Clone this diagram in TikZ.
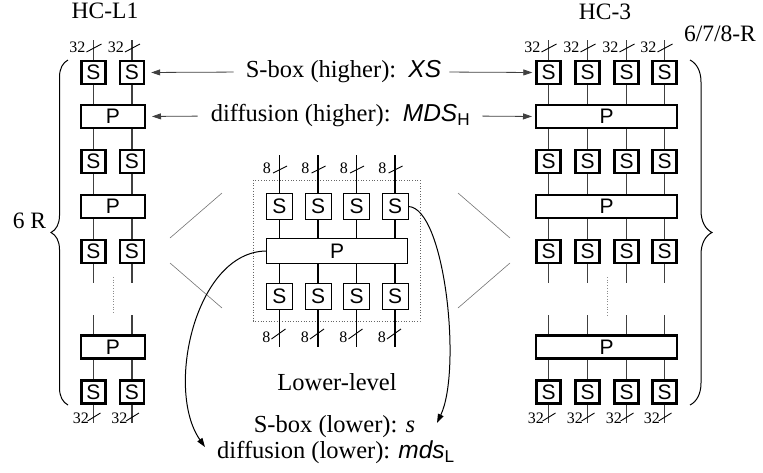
\documentclass[tikz,border=0pt]{standalone}
\usepackage{fontspec}
\setmainfont{Liberation Serif}
\newfontfamily\arialfont{Liberation Sans}
\usetikzlibrary{arrows.meta,decorations.pathreplacing}
\begin{document}
\begin{tikzpicture}[x=1pt,y=-1pt,
  hs/.style={draw, line width=2.4pt, fill=white, minimum width=24pt, minimum height=23pt, inner sep=0pt, font=\arialfont\fontsize{21}{21}\selectfont},
  ls/.style={draw, line width=0.9pt, fill=white, minimum width=26pt, minimum height=26pt, inner sep=0pt, font=\arialfont\fontsize{21}{21}\selectfont},
  wire/.style={line width=1.1pt, black!75},
  tick/.style={line width=0.9pt, black},
  gapline/.style={line width=0.7pt, black!45, dotted},
  zoomline/.style={line width=0.6pt, black!55},
  lbl/.style={font=\fontsize{24.5}{28}\selectfont, inner sep=0pt},
  ttl/.style={font=\fontsize{23.5}{27}\selectfont, inner sep=0pt},
  bus/.style={font=\fontsize{16}{16}\selectfont, inner sep=0pt, anchor=east},
  ptr/.style={line width=0.8pt, black!75, -{Triangle[length=9pt,width=6pt]}},
  curv/.style={line width=1pt, black, -{Triangle[length=9pt,width=6pt]}},
  bracestyle/.style={line width=1pt, decorate}
]
\useasboundingbox (0,0) rectangle (763,472);

% ---------- left column HC-L1 ----------
\node[hs, minimum width=63.6pt] (LP1) at (113,116.5) {P};
\node[hs, minimum width=63.6pt] (LP2) at (113,206.5) {P};
\node[hs, minimum width=63.6pt] (LP3) at (113,347) {P};
\foreach \c/\x in {1/93.5,2/132} {
  \node[hs] (L1-\c) at (\x,72.5) {S};
  \node[hs] (L2-\c) at (\x,161.5) {S};
  \node[hs] (L3-\c) at (\x,251.5) {S};
  \node[hs] (L4-\c) at (\x,392) {S};
  \coordinate (Ltop-\c) at (\x,40);
  \coordinate (Lga-\c) at (\x,283);
  \coordinate (Lgb-\c) at (\x,315);
  \coordinate (Lbot-\c) at (\x,423);
  \draw[wire] (Ltop-\c) -- (L1-\c.north);
  \draw[wire] (L1-\c.south) -- (L1-\c.south |- LP1.north);
  \draw[wire] (L1-\c.south |- LP1.south) -- (L2-\c.north);
  \draw[wire] (L2-\c.south) -- (L2-\c.south |- LP2.north);
  \draw[wire] (L2-\c.south |- LP2.south) -- (L3-\c.north);
  \draw[wire] (L3-\c.south) -- (Lga-\c);
  \draw[wire] (Lgb-\c) -- (L3-\c.south |- LP3.north);
  \draw[wire] (L3-\c.south |- LP3.south) -- (L4-\c.north);
  \draw[wire] (L4-\c.south) -- (Lbot-\c);
  \draw[tick] ({\x-7},52) -- ({\x+8},44);
  \node[bus] at ({\x-8},47) {32};
  \draw[tick] ({\x-6},421) -- ({\x+7},413);
  \node[bus] at ({\x-4.5},418) {32};
}
\draw[gapline] (113,277) -- (113,313);

% ---------- right column HC-3 ----------
\node[hs, minimum width=140.6pt] (RP1) at (606.5,116.5) {P};
\node[hs, minimum width=140.6pt] (RP2) at (606.5,206.5) {P};
\node[hs, minimum width=140.6pt] (RP3) at (606.5,347) {P};
\foreach \c/\x in {1/548.5,2/587.5,3/626.5,4/664.5} {
  \node[hs] (R1-\c) at (\x,72.5) {S};
  \node[hs] (R2-\c) at (\x,161.5) {S};
  \node[hs] (R3-\c) at (\x,251.5) {S};
  \node[hs] (R4-\c) at (\x,392) {S};
  \coordinate (Rtop-\c) at (\x,40);
  \coordinate (Rga-\c) at (\x,283);
  \coordinate (Rgb-\c) at (\x,315);
  \coordinate (Rbot-\c) at (\x,423);
  \draw[wire] (Rtop-\c) -- (R1-\c.north);
  \draw[wire] (R1-\c.south) -- (R1-\c.south |- RP1.north);
  \draw[wire] (R1-\c.south |- RP1.south) -- (R2-\c.north);
  \draw[wire] (R2-\c.south) -- (R2-\c.south |- RP2.north);
  \draw[wire] (R2-\c.south |- RP2.south) -- (R3-\c.north);
  \draw[wire] (R3-\c.south) -- (Rga-\c);
  \draw[wire] (Rgb-\c) -- (R3-\c.south |- RP3.north);
  \draw[wire] (R3-\c.south |- RP3.south) -- (R4-\c.north);
  \draw[wire] (R4-\c.south) -- (Rbot-\c);
  \draw[tick] ({\x-7},52) -- ({\x+8},44);
  \node[bus] at ({\x-8},47) {32};
  \draw[tick] ({\x-6},421) -- ({\x+7},413);
  \node[bus] at ({\x-4.5},418) {32};
}
\draw[gapline] (607,277) -- (607,315);

% ---------- lower level (middle) ----------
\draw[line width=0.7pt, black!60, dotted] (253,180) rectangle (420,321);
\node[ls, minimum width=141pt, minimum height=25pt] (MP) at (337,251) {P};
\foreach \c/\x in {1/279.5,2/318,3/356.5,4/395} {
  \node[ls] (M1-\c) at (\x,206.5) {S};
  \node[ls] (M2-\c) at (\x,296) {S};
  \coordinate (Mtop-\c) at (\x,155);
  \coordinate (Mbot-\c) at (\x,347);
  \draw[wire, black] (Mtop-\c) -- (M1-\c.north);
  \draw[wire, black] (M1-\c.south) -- (M1-\c.south |- MP.north);
  \draw[wire, black] (M1-\c.south |- MP.south) -- (M2-\c.north);
  \draw[wire, black] (M2-\c.south) -- (Mbot-\c);
  \draw[tick] ({\x-6.5},173) -- ({\x+7.5},166);
  \node[bus] at ({\x-8.5},168) {8};
  \draw[tick] ({\x-8},339) -- ({\x+6},329);
  \node[bus] at ({\x-9},337) {8};
}

% zoom lines
\draw[zoomline] (170,238) -- (222,193);
\draw[zoomline] (170,263) -- (222,308);
\draw[zoomline] (458,193) -- (510,238);
\draw[zoomline] (458,308) -- (510,263);

% braces
\draw[bracestyle, decoration={brace, amplitude=17pt}] (68,405) -- (68,60);
\draw[bracestyle, decoration={brace, amplitude=22pt}] (690,60) -- (690,405);

% titles
\node[ttl] (tL) at (105,11) {HC-L1};
\node[ttl] (tR) at (605,12) {HC-3};
\node[ttl] (tRR) at (720,34) {6/7/8-R};
\node[ttl] (tLR) at (29.5,221) {6 R};
\node[lbl] (tLL) at (337,382) {Lower-level};

% higher-level labels and arrows
\node[lbl] (sh) at (343.5,72) {S-box (higher):\hspace{0.5em}{\arialfont\itshape XS}};
\node[lbl] (dh) at (340.5,116) {diffusion (higher):\hspace{0.5em}{\arialfont\itshape MDS}\textsubscript{\arialfont H}};
\draw[ptr, shorten <=12pt, shorten >=6pt] (sh.west) -- (L1-2.east);
\draw[ptr, shorten <=8pt, shorten >=3pt] (sh.east) -- (R1-1.west);
\draw[ptr, shorten <=13pt, shorten >=6pt] (dh.west) -- (LP1.east);
\draw[ptr, shorten <=12pt, shorten >=3pt] (dh.east) -- (RP1.west);

% lower-level labels and arrows
\node[lbl] (sl) at (334.5,427) {S-box (lower): \textit{s}};
\node[lbl] (dl) at (336,452) {diffusion (lower): {\arialfont\itshape mds}\textsubscript{\arialfont L}};
\coordinate (stip) at (437,423);
\coordinate (dtip) at (205,447);
\draw[curv] (M1-4.east) .. controls (445,208) and (462,370) .. (stip);
\draw[curv] (MP.west) .. controls (195,252) and (165,390) .. (dtip);
\end{tikzpicture}
\end{document}
